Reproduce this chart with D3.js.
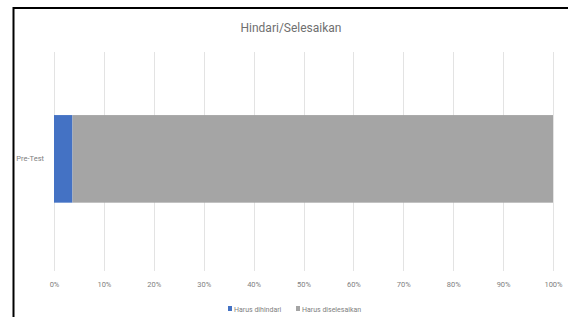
<!DOCTYPE html>
<html><head><meta charset="utf-8">
<script src="https://cdn.jsdelivr.net/npm/d3@7"></script>
<style>html,body{margin:0;padding:0;background:#fff;}svg{display:block;}</style>
</head><body>
<svg id="c" width="568" height="317"></svg>
<script>
const categories = ["Pre-Test"];
const seriesNames = ["Harus dihindari", "Harus diselesaikan"];
const seriesColors = ["#4472C4", "#A5A5A5"];
const harusDihindari = [3.7];
const harusDiselesaikan = [96.3];
const tickValues = [0,10,20,30,40,50,60,70,80,90,100];
const titleText = "Hindari/Selesaikan";

const svg = d3.select("#c");
const font = "Roboto, 'Open Sans', sans-serif";

// frame
svg.append("line").attr("x1",13.5).attr("x2",13.5).attr("y1",7).attr("y2",317).attr("stroke","#000").attr("stroke-width",2);
svg.append("line").attr("x1",13).attr("x2",568).attr("y1",8).attr("y2",8).attr("stroke","#000").attr("stroke-width",2);

const x = d3.scaleLinear().domain([0,100]).range([54,553]);
const y = d3.scaleBand().domain(categories).range([52,271]).paddingInner(0.6).paddingOuter(0.3).align(0.48);

// gridlines
svg.append("g").selectAll("line").data(tickValues).join("line")
  .attr("x1",d=>Math.round(x(d))+0.5).attr("x2",d=>Math.round(x(d))+0.5)
  .attr("y1",52).attr("y2",271).attr("stroke","#e3e3e3").attr("stroke-width",1);

// stacked bars
const data = categories.map((c,i)=>({cat:c, "Harus dihindari":harusDihindari[i], "Harus diselesaikan":harusDiselesaikan[i]}));
const stack = d3.stack().keys(seriesNames)(data);
svg.append("g").selectAll("g").data(stack).join("g")
  .attr("fill",(d,i)=>seriesColors[i])
  .selectAll("rect").data(d=>d).join("rect")
  .attr("x",d=>x(d[0])).attr("width",d=>x(d[1])-x(d[0]))
  .attr("y",d=>y(d.data.cat)).attr("height",y.bandwidth());

// x axis labels
const xAxis = d3.axisBottom(x).tickValues(tickValues).tickFormat(d=>d+"%").tickSize(0);
const gx = svg.append("g").attr("transform","translate(0,279)").call(xAxis);
gx.select(".domain").remove();
gx.selectAll("text").attr("fill","#808080").attr("font-size","7.5px").attr("font-family",font);

// y axis labels
const yAxis = d3.axisLeft(y).tickSize(0);
const gy = svg.append("g").attr("transform","translate(47,0)").call(yAxis);
gy.select(".domain").remove();
gy.selectAll("text").attr("fill","#808080").attr("font-size","7.5px").attr("font-family",font);

// title
svg.append("text").attr("x",291).attr("y",32).attr("text-anchor","middle")
  .attr("fill","#6f6f6f").attr("font-size","12px").attr("font-family",font).text(titleText);

// legend
const legX = [228, 296];
const lg = svg.append("g").selectAll("g").data(seriesNames).join("g")
  .attr("transform",(d,i)=>`translate(${legX[i]},309)`);
lg.append("rect").attr("x",0).attr("y",-3).attr("width",4).attr("height",5).attr("fill",(d,i)=>seriesColors[i]);
lg.append("text").attr("x",6).attr("y",2.5).attr("fill","#808080").attr("font-size","7px").attr("font-family",font).text(d=>d);
</script>
</body></html>
